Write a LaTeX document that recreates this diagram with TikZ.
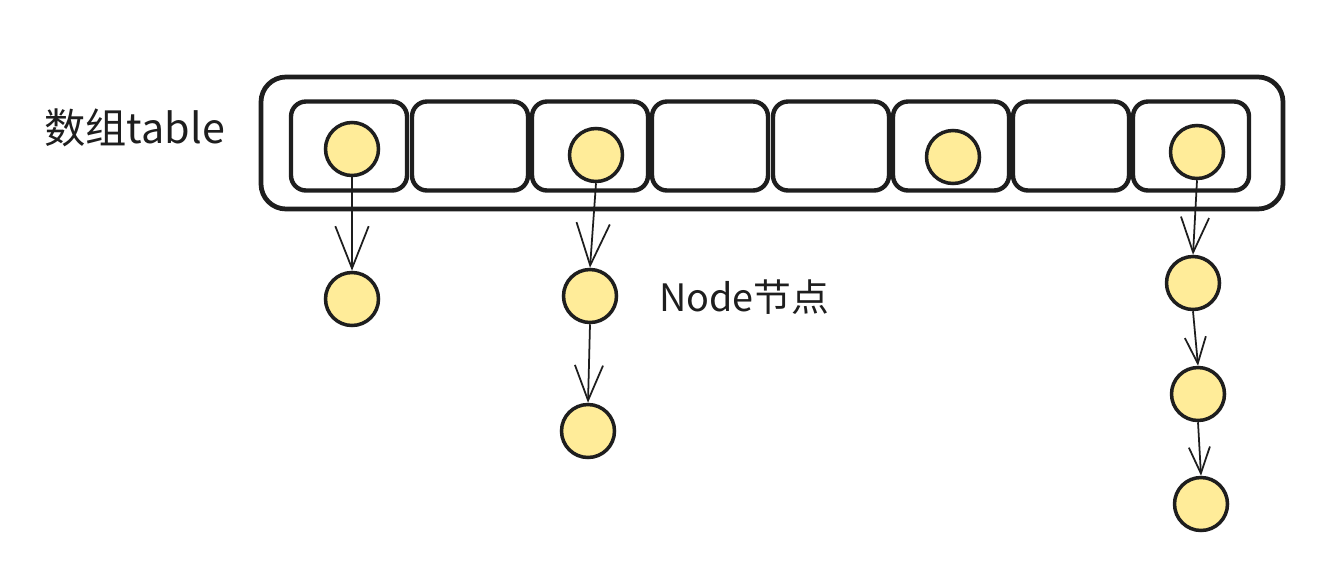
\documentclass[tikz,border=0pt]{standalone}
\usepackage{fontspec}
\setmainfont{Noto Sans CJK SC}
\usetikzlibrary{arrows.meta}
\definecolor{ink}{HTML}{1E1E1E}
\definecolor{nodefill}{HTML}{FFEC99}
\tikzset{
  outerbox/.style={draw=ink, line width=2.7pt, rounded corners=0.5cm},
  cellbox/.style={draw=ink, line width=2.5pt, rounded corners=0.3cm, minimum width=2.32cm, minimum height=1.78cm, inner sep=0pt},
  dot/.style={circle, draw=ink, fill=nodefill, line width=2pt, minimum size=1.06cm, inner sep=0pt},
  link/.style={draw=ink, line width=1pt},
  bighead/.style={-{Straight Barb[length=24pt, width=19pt, line width=1pt]}},
  midhead/.style={-{Straight Barb[length=20pt, width=16pt, line width=1pt]}},
  smallhead/.style={-{Straight Barb[length=15pt, width=12pt, line width=1pt]}},
  lbl/.style={text=ink, inner sep=0pt}
}
\begin{document}
\begin{tikzpicture}[x=0.02cm, y=-0.02cm]
\useasboundingbox (0,0) rectangle (1338,572);
% outer table
\draw[outerbox] (261,77) rectangle (1283,209);
% cells
\node[cellbox] (c1) at (349,146) {};
\node[cellbox] (c2) at (470,146) {};
\node[cellbox] (c3) at (590,146) {};
\node[cellbox] (c4) at (710,146) {};
\node[cellbox] (c5) at (831,146) {};
\node[cellbox] (c6) at (951,146) {};
\node[cellbox] (c7) at (1071,146) {};
\node[cellbox] (c8) at (1191,146) {};
% dots in table
\node[dot] (p1) at (352,149) {};
\node[dot] (p3) at (596,155) {};
\node[dot] (p6) at (953,157) {};
\node[dot] (p8) at (1197,152) {};
% chain nodes
\node[dot] (a1) at (352,299) {};
\node[dot] (b1) at (590,296) {};
\node[dot] (b2) at (588,431) {};
\node[dot] (d1) at (1193,283) {};
\node[dot] (d2) at (1198,394) {};
\node[dot] (d3) at (1201,504) {};
% links
\draw[link, bighead] (p1.south) -- (a1.north);
\draw[link, bighead] (p3.south) -- (b1.north);
\draw[link, midhead] (b1.south) -- (b2.north);
\draw[link, midhead] (p8.south) -- (d1.north);
\draw[link, smallhead] (d1.south) -- (d2.north);
\draw[link, smallhead] (d2.south) -- (d3.north);
% labels
\node[lbl, anchor=west, font=\fontsize{23.5pt}{27pt}\selectfont] (t1) at (44,128) {数组table};
\node[lbl, anchor=west, font=\fontsize{21.5pt}{26pt}\selectfont] (t2) at (659,297) {\textit{Node}节点};
\end{tikzpicture}
\end{document}
